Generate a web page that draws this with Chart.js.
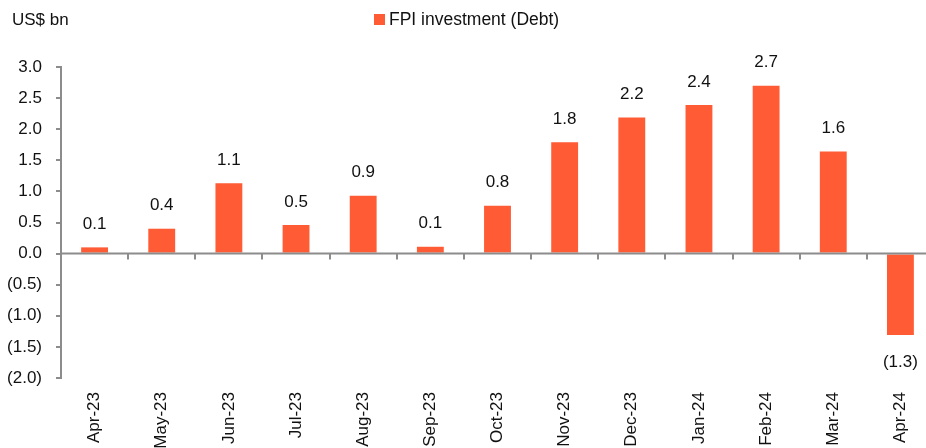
<!DOCTYPE html>
<html>
<head>
<meta charset="utf-8">
<script src="https://cdn.jsdelivr.net/npm/chart.js@4"></script>
<style>
  html, body { margin: 0; padding: 0; background: #ffffff; overflow: hidden; }
  #wrap { width: 950px; height: 470px; }
</style>
</head>
<body>
<div id="wrap"><canvas id="c" width="950" height="470"></canvas></div>
<script>
const categories = ['Apr-23','May-23','Jun-23','Jul-23','Aug-23','Sep-23','Oct-23','Nov-23','Dec-23','Jan-24','Feb-24','Mar-24','Apr-24'];
const fpiDebt = [0.10, 0.40, 1.13, 0.46, 0.93, 0.11, 0.77, 1.79, 2.19, 2.39, 2.70, 1.64, -1.31];
const seriesName = 'FPI investment (Debt)';
const unitLabel = 'US$ bn';
const yMin = -2.0, yMax = 3.0, yStep = 0.5;

const FONT = '"Liberation Sans", Arial, sans-serif';
const BAR = '#FF5B35';
const AXIS = '#8C8C8C';
const TEXT = '#111111';

function fmt(v) {
  const s = Math.abs(v).toFixed(1);
  return v < 0 ? '(' + s + ')' : s;
}

const decor = {
  id: 'decor',
  afterDatasetsDraw(chart) {
    const ctx = chart.ctx;
    const xs = chart.scales.x, ys = chart.scales.y;
    const area = chart.chartArea;
    const y0 = ys.getPixelForValue(0);
    ctx.save();
    ctx.strokeStyle = AXIS;
    ctx.lineWidth = 2;
    ctx.beginPath();
    ctx.moveTo(area.left, y0);
    ctx.lineTo(area.right, y0);
    ctx.stroke();
    for (let i = 1; i <= categories.length; i++) {
      const x = Math.round(xs.getPixelForValue(i - 0.5));
      ctx.beginPath();
      ctx.moveTo(x, y0);
      ctx.lineTo(x, y0 + 6);
      ctx.stroke();
    }
    ctx.fillStyle = TEXT;
    ctx.font = '17px ' + FONT;
    ctx.textAlign = 'center';
    ctx.textBaseline = 'middle';
    const meta = chart.getDatasetMeta(0);
    meta.data.forEach((el, i) => {
      const v = fpiDebt[i];
      const y = v >= 0 ? el.y - 23 : el.y + 27;
      ctx.fillText(fmt(v), el.x, y);
    });
    ctx.restore();
  },
  afterDraw(chart) {
    const ctx = chart.ctx;
    ctx.save();
    ctx.fillStyle = TEXT;
    ctx.font = '17px ' + FONT;
    ctx.textBaseline = 'middle';
    ctx.textAlign = 'left';
    ctx.fillText(unitLabel, 12, 20);
    ctx.fillStyle = BAR;
    ctx.fillRect(374, 14, 11, 11);
    ctx.fillStyle = TEXT;
    ctx.font = '17.5px ' + FONT;
    ctx.fillText(chart.data.datasets[0].label, 389, 20);
    ctx.restore();
  }
};

new Chart(document.getElementById('c'), {
  type: 'bar',
  data: {
    labels: categories,
    datasets: [{
      label: seriesName,
      data: fpiDebt,
      backgroundColor: BAR,
      borderWidth: 0,
      barPercentage: 0.4,
      categoryPercentage: 1.0
    }]
  },
  options: {
    responsive: false,
    animation: false,
    devicePixelRatio: 1,
    layout: { padding: { top: 67, right: 16, left: 0, bottom: 0 } },
    plugins: { legend: { display: false }, tooltip: { enabled: false }, title: { display: false } },
    scales: {
      x: {
        offset: true,
        grid: { display: false },
        border: { display: false },
        ticks: {
          autoSkip: false,
          maxRotation: 90,
          minRotation: 90,
          padding: 6,
          color: TEXT,
          font: { family: FONT, size: 17 }
        },
        afterFit(scale) { scale.height = 92; }
      },
      y: {
        min: yMin,
        max: yMax,
        grid: { drawOnChartArea: false, drawTicks: true, tickLength: 5, color: AXIS, lineWidth: 2 },
        border: { display: true, color: AXIS, width: 2 },
        ticks: {
          stepSize: yStep,
          padding: 14,
          color: TEXT,
          font: { family: FONT, size: 17 },
          callback: (v) => fmt(v)
        },
        afterFit(scale) { scale.width = 61; }
      }
    }
  },
  plugins: [decor]
});
</script>
</body>
</html>
